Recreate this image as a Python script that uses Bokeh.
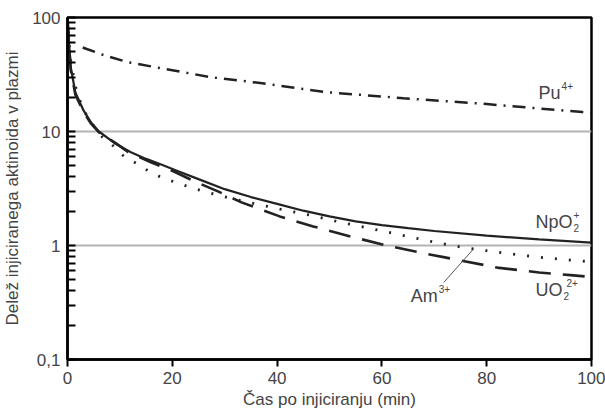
import numpy as np
from bokeh.plotting import figure
from bokeh.models import FixedTicker, Range1d, ColumnDataSource, CustomJSTickFormatter
from bokeh.embed import file_html
from bokeh.resources import INLINE
from bokeh.core.properties import value

# ---------------- data ----------------
t_np = [0, 0.3, 0.6, 1.5, 3, 4.5, 6, 9, 12, 15, 18, 21, 25, 30, 35, 40, 45, 50, 55, 60, 65, 70, 80, 90, 100]
np_vals = [100, 60, 37, 22, 15.5, 12, 10, 7.9, 6.6, 5.75, 5.1, 4.5, 3.82, 3.12, 2.66, 2.32, 2.02, 1.80,
           1.63, 1.51, 1.42, 1.34, 1.22, 1.13, 1.06]

t_uo = [0, 0.6, 1.5, 3, 4.5, 6, 9.2, 11.6, 15.8, 20.2, 24.4, 28.6, 33.2, 40.5, 46.9, 54, 60.9, 66.6, 75, 82, 90, 96, 100]
uo_vals = [100, 35, 21, 15, 11.7, 9.8, 7.9, 6.6, 5.4, 4.48, 3.62, 3.0, 2.39, 1.80, 1.47, 1.20, 1.0, 0.88, 0.74, 0.64, 0.58, 0.55, 0.53]

t_am = [0, 0.5, 1.5, 2.5, 3.4, 5, 6.7, 9, 11, 13.4, 15.8, 18.3, 21.2, 23.9, 26.7, 29.6, 34, 38.2,
        40.6, 46.4, 52.1, 57.8, 63.2, 70, 75, 80, 85, 90, 95, 100]
am_vals = [100, 45, 25, 18, 14.5, 11.2, 8.9, 7.3, 5.9, 5.2, 4.39, 3.89, 3.51, 3.18, 2.93, 2.70, 2.42, 2.2,
           2.08, 1.84, 1.60, 1.41, 1.25, 1.07, 0.97, 0.90, 0.84, 0.79, 0.75, 0.72]

t_pu = [2.9, 3.4, 6.9, 11.5, 17.7, 27.3, 36.8, 49.6, 64.1, 80, 98.3, 100]
pu_vals = [54.5, 53.5, 46.8, 40.6, 36, 30, 26.6, 22.1, 19.6, 17.4, 14.8, 14.6]

x_ticks = [0, 20, 40, 60, 80, 100]
y_ticks = [0.1, 1, 10, 100]
grid_values = [1, 10]

x_title = "Čas po injiciranju (min)"
y_title = "Delež injiciranega aktinoida v plazmi"

# ---------------- figure ----------------
FONT = "Liberation Sans"
TXT = "#444444"
INK = "#222222"

p = figure(width=605, height=411, y_axis_type="log",
           x_range=Range1d(0, 100), y_range=Range1d(0.1, 100),
           output_backend="svg", toolbar_location=None,
           min_border_left=67, min_border_right=14, min_border_top=17, min_border_bottom=52)
p.background_fill_color = "white"
p.border_fill_color = "white"
p.outline_line_color = "black"
p.outline_line_width = 2.5

# axes
p.xaxis.ticker = FixedTicker(ticks=x_ticks, minor_ticks=[])
p.xaxis.major_tick_out = 7
p.xaxis.major_tick_in = 0
p.xaxis.minor_tick_line_color = None
p.xaxis.major_label_standoff = 5

minor = [m * 10.0 ** e for e in (-1, 0, 1) for m in range(2, 10)]
p.yaxis.ticker = FixedTicker(ticks=y_ticks, minor_ticks=minor)
p.yaxis.formatter = CustomJSTickFormatter(code="return String(tick).replace('.', ',');")
p.yaxis.major_tick_in = 8
p.yaxis.major_tick_out = 0
p.yaxis.minor_tick_in = 8
p.yaxis.minor_tick_out = 0
p.yaxis.major_label_standoff = 7

for ax in (p.xaxis, p.yaxis):
    ax.axis_line_width = 2.5
    ax.axis_line_color = "black"
    ax.major_tick_line_width = 2
    ax.minor_tick_line_width = 2
    ax.major_tick_line_color = "black"
    ax.major_label_text_font = FONT
    ax.major_label_text_font_size = "17px"
    ax.major_label_text_color = TXT
    ax.axis_label_text_font = FONT
    ax.axis_label_text_font_size = "17px"
    ax.axis_label_text_font_style = "normal"
    ax.axis_label_text_color = TXT

p.yaxis.minor_tick_line_color = "black"
p.xaxis.axis_label = x_title
p.yaxis.axis_label = y_title
p.xaxis.axis_label_standoff = 3
p.yaxis.axis_label_standoff = 7

p.xgrid.visible = False
p.ygrid.ticker = FixedTicker(ticks=grid_values, minor_ticks=[])
p.ygrid.grid_line_color = "#b4b4b4"
p.ygrid.grid_line_width = 2
p.ygrid.minor_grid_line_color = None

# ---------------- curves ----------------
p.line(t_np, np_vals, line_color=INK, line_width=2.2)
p.line(t_uo, uo_vals, line_color=INK, line_width=2.6, line_dash="22 12")
p.line(t_am, am_vals, line_color=INK, line_width=2.8, line_dash="2 12")
p.line(t_pu, pu_vals, line_color=INK, line_width=2.5, line_dash="13 7 2 7")

# ---------------- annotations ----------------
lab_x = [89.9, 89.3, 89.3, 65.5]
lab_y = [21.7, 1.60, 0.403, 0.364]
lab_t = ["Pu", "NpO", "UO", "Am"]
p.text(x=lab_x, y=lab_y, text=lab_t, text_font=value(FONT), text_font_size=value("18px"),
       text_color=TXT, text_baseline="middle", text_align="left")

# sub/superscripts anchored to the labels
sc_idx = [0, 1, 1, 2, 2, 3]
sc_t = ["4+", "2", "+", "2", "2+", "3+"]
sc_dx = [23, 38, 38, 28, 31, 28]
sc_dy = [-7, 6, -7, 6, -7, -7]
src = ColumnDataSource(dict(x=[lab_x[i] for i in sc_idx], y=[lab_y[i] for i in sc_idx],
                            t=sc_t, dx=sc_dx, dy=sc_dy))
p.text(x="x", y="y", text="t", x_offset="dx", y_offset="dy", source=src,
       text_font=value(FONT), text_font_size=value("10px"), text_color=TXT,
       text_baseline="middle", text_align="left")

# leader line from the Am label to the dotted curve
lead_x0, lead_y0 = 71.8, 0.474
lead_x1 = 77.5
lead_y1 = float(np.interp(lead_x1, t_am, am_vals))
p.line([lead_x0, lead_x1], [lead_y0, lead_y1], line_color="#555555", line_width=1)

open("out.html", "w").write(file_html(p, INLINE))
